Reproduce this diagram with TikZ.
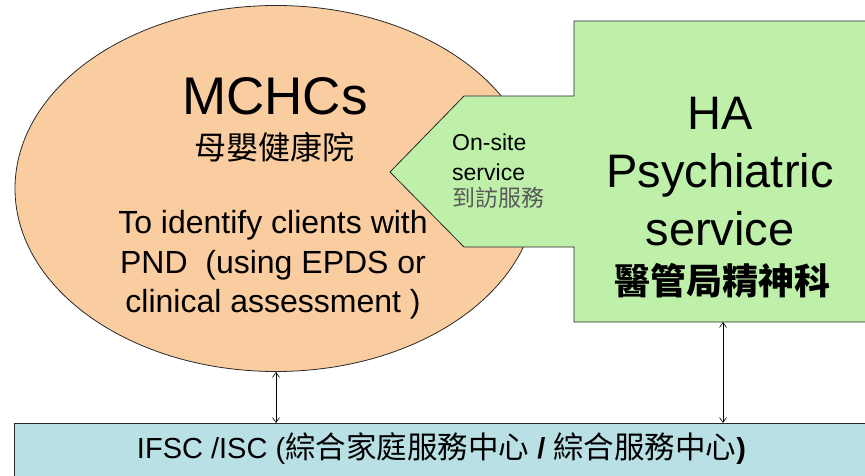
\documentclass[tikz,border=0pt]{standalone}
\usepackage{fontspec}
\setmainfont{Liberation Sans}
\newfontfamily\cjk{Noto Sans CJK TC}
\usetikzlibrary{arrows.meta,shapes.geometric}
\definecolor{peach}{RGB}{250,205,160}
\definecolor{lgreen}{RGB}{190,240,170}
\definecolor{lcyan}{RGB}{185,224,228}
\definecolor{outl}{RGB}{40,40,40}
\tikzset{
  txt/.style={inner sep=0pt, anchor=base, text=black},
  shapeline/.style={draw=outl, line width=0.8pt},
  biarrow/.style={{Straight Barb[length=5pt,width=7pt]}-{Straight Barb[length=5pt,width=7pt]}, line width=0.6pt, black},
}
\begin{document}
\begin{tikzpicture}[x=1pt,y=-1pt]
\useasboundingbox (0,0) rectangle (865,476);
\clip (0,0) rectangle (865,476);
% MCHC ellipse
\node[shapeline, fill=peach, ellipse, minimum width=522pt, minimum height=366pt, inner sep=0pt] (mchc) at (276,188.5) {};
% HA shape
\path[shapeline, fill=lgreen] (574,21) -- (880,21) -- (880,322) -- (574,322) -- (574,247) -- (464,247) -- (390,172) -- (464,96) -- (574,96) -- cycle;
\coordinate (habot) at (723,322);
% bottom box
\node[shapeline, fill=lcyan, anchor=north west, minimum width=870pt, minimum height=70pt, inner sep=0pt] (ifsc) at (14,423) {};
% MCHC text
\node[txt, font=\fontsize{53}{60}\selectfont] (t1) at (275,115) {MCHCs};
\node[txt, font=\fontsize{32}{36}\selectfont\cjk] (t2) at (274,160) {母嬰健康院};
\node[txt, font=\fontsize{32}{36}\selectfont] (t3) at (273,233) {To identify clients with};
\node[txt, font=\fontsize{32}{36}\selectfont] (t4) at (273,273) {PND\ \ (using EPDS or};
\node[txt, font=\fontsize{32}{36}\selectfont] (t5) at (273,312) {clinical assessment )};
% On-site
\node[txt, anchor=base west, font=\fontsize{23}{26}\selectfont] (o1) at (452,150) {On-site};
\node[txt, anchor=base west, font=\fontsize{23}{26}\selectfont] (o2) at (452,180) {service};
\node[txt, anchor=base west, font=\fontsize{23}{26}\selectfont\cjk, text=black!65] (o3) at (452,207) {到訪服務};
% HA text
\node[txt, font=\fontsize{47}{52}\selectfont] (h1) at (720,130) {HA};
\node[txt, font=\fontsize{47}{52}\selectfont] (h2) at (720,187) {Psychiatric};
\node[txt, font=\fontsize{47}{52}\selectfont] (h3) at (720,245) {service};
\node[txt, font=\fontsize{36}{40}\selectfont\cjk\bfseries] (h4) at (722,294) {醫管局精神科};
% bottom text
\node[txt, font=\fontsize{29}{32}\selectfont] (b1) at (441.5,458) {IFSC /ISC ({\fontsize{30.5}{32}\selectfont\cjk 綜合家庭服務中心} \textbf{/} {\fontsize{30.5}{32}\selectfont\cjk 綜合服務中心}\textbf{)}};
% connectors
\draw[biarrow] (mchc.south) -- (mchc.south |- ifsc.north);
\draw[biarrow] (habot) -- (habot |- ifsc.north);
\end{tikzpicture}
\end{document}
